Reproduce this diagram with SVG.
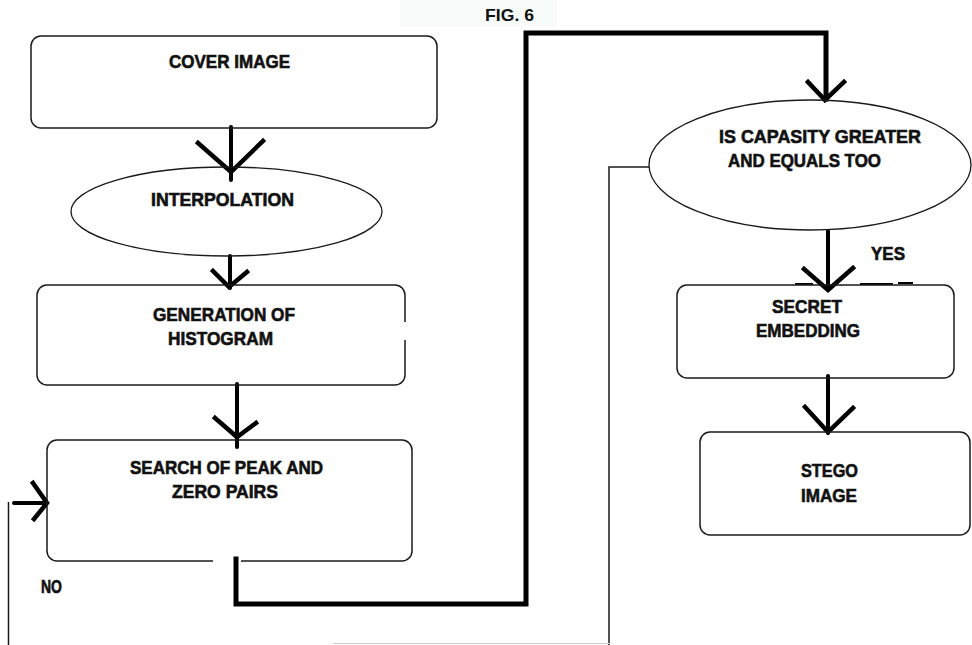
<svg xmlns="http://www.w3.org/2000/svg" width="972" height="645" viewBox="0 0 972 645">
<style>
.bg{fill:#ffffff}
.box{fill:none;stroke:#1a1a1a;stroke-width:1.5}
.ell{fill:none;stroke:#1a1a1a;stroke-width:1.3}
.lbl{font-family:"Liberation Sans",Arial,sans-serif;font-weight:bold;font-size:18px;fill:#111;stroke:#111;stroke-width:0.6}
.fig{font-family:"Liberation Sans",Arial,sans-serif;font-weight:bold;font-size:17px;fill:#111}
.thick{fill:none;stroke:#000;stroke-width:5;stroke-linejoin:miter;stroke-linecap:square}
.arr{fill:none;stroke:#000;stroke-width:4;stroke-linecap:round;stroke-linejoin:round}
.head{fill:none;stroke:#000;stroke-width:4.5;stroke-linecap:square;stroke-linejoin:miter}
.thin{fill:none;stroke:#1a1a1a;stroke-width:1.5}
</style>
<rect class="bg" x="0" y="0" width="972" height="645"/>
<rect x="400" y="0" width="157" height="27" fill="#f7fcfa"/>
<text class="fig" x="485" y="21" textLength="49" lengthAdjust="spacingAndGlyphs">FIG. 6</text>

<g id="connectors">
  <line class="arr" x1="231" y1="127" x2="231" y2="180"/>
  <polyline class="head" points="198,143 231,172 263,141"/>
  <line class="arr" x1="230" y1="256" x2="230" y2="288"/>
  <polyline class="head" points="213,271 229,287 247,272"/>
  <line class="arr" x1="237" y1="384" x2="237" y2="447"/>
  <polyline class="head" points="215,418 237,437 256,423"/>
  <polyline class="thick" points="236,559 236,604 526,604 526,33 826,33 826,99"/>
  <polyline class="head" points="808,82 825,100 844,82"/>
  <line class="arr" x1="828" y1="231" x2="828" y2="289"/>
  <polyline class="head" points="804,269 828,290 853,268"/>
  <line class="arr" x1="828" y1="376" x2="828" y2="433"/>
  <polyline class="head" points="805,407 828,432 853,408"/>
  <polyline class="thin" points="649,167 609,167 609,645"/>
  <line x1="333" y1="643.5" x2="610" y2="643.5" stroke="#cfcfcf" stroke-width="1"/>
  <line class="thin" x1="8.5" y1="502" x2="8.5" y2="645"/>
  <line class="arr" x1="14" y1="503" x2="46" y2="503"/>
  <polyline class="head" points="33,483 47,503 34,519"/>
  <line x1="795" y1="284" x2="813" y2="284" stroke="#000" stroke-width="2"/>
  <line x1="860" y1="284" x2="893" y2="284" stroke="#000" stroke-width="2"/>
  <line x1="898" y1="283" x2="913" y2="283" stroke="#000" stroke-width="2"/>
  <text class="lbl" x="41" y="593" textLength="21" lengthAdjust="spacingAndGlyphs">NO</text>
  <text class="lbl" x="871" y="260" textLength="34" lengthAdjust="spacingAndGlyphs">YES</text>
</g>

<g id="cover-image">
  <rect class="box" x="31" y="36" width="406" height="92" rx="10" ry="10"/>
  <text class="lbl" x="169" y="68" textLength="121" lengthAdjust="spacingAndGlyphs">COVER IMAGE</text>
</g>

<g id="interpolation">
  <ellipse class="ell" cx="226.5" cy="211.5" rx="155.5" ry="44.5"/>
  <text class="lbl" x="151" y="206" textLength="143" lengthAdjust="spacingAndGlyphs">INTERPOLATION</text>
</g>

<g id="generation-histogram">
  <path class="box" d="M405 322 L405 295 A10 10 0 0 0 395 285 L47 285 A10 10 0 0 0 37 295 L37 375 A10 10 0 0 0 47 385 L395 385 A10 10 0 0 0 405 375 L405 340"/>
  <text class="lbl" x="153" y="321" textLength="142" lengthAdjust="spacingAndGlyphs">GENERATION OF</text>
  <text class="lbl" x="168" y="345" textLength="105" lengthAdjust="spacingAndGlyphs">HISTOGRAM</text>
</g>

<g id="search-peak-zero">
  <path class="box" d="M241 561 L402 561 A10 10 0 0 0 412 551 L412 450 A10 10 0 0 0 402 440 L57 440 A10 10 0 0 0 47 450 L47 551 A10 10 0 0 0 57 561 L213 561"/>
  <text class="lbl" x="130" y="474" textLength="193" lengthAdjust="spacingAndGlyphs">SEARCH OF PEAK AND</text>
  <text class="lbl" x="172" y="498" textLength="106" lengthAdjust="spacingAndGlyphs">ZERO PAIRS</text>
</g>

<g id="capacity-check">
  <ellipse class="ell" cx="810" cy="165" rx="161" ry="65"/>
  <text class="lbl" x="719" y="143" textLength="202" lengthAdjust="spacingAndGlyphs">IS CAPASITY GREATER</text>
  <text class="lbl" x="728" y="167" textLength="153" lengthAdjust="spacingAndGlyphs">AND EQUALS TOO</text>
</g>

<g id="secret-embedding">
  <rect class="box" x="677" y="285" width="277" height="93" rx="10" ry="10"/>
  <text class="lbl" x="772" y="313" textLength="70" lengthAdjust="spacingAndGlyphs">SECRET</text>
  <text class="lbl" x="756" y="337" textLength="104" lengthAdjust="spacingAndGlyphs">EMBEDDING</text>
</g>

<g id="stego-image">
  <rect class="box" x="700" y="432" width="270" height="103" rx="10" ry="10"/>
  <text class="lbl" x="801" y="477" textLength="57" lengthAdjust="spacingAndGlyphs">STEGO</text>
  <text class="lbl" x="801" y="502" textLength="56" lengthAdjust="spacingAndGlyphs">IMAGE</text>
</g>
</svg>
